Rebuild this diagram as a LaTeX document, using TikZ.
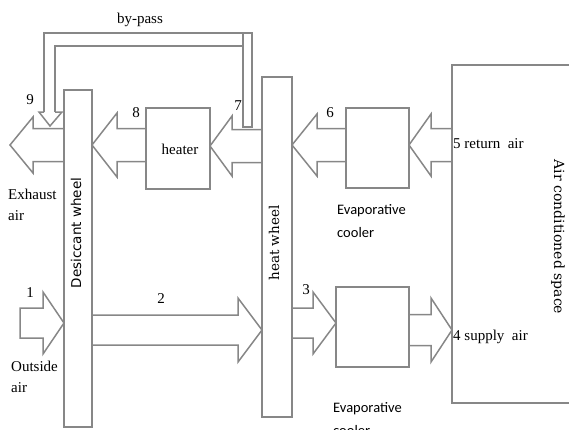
\documentclass[tikz,border=0pt]{standalone}
\usepackage{fontspec}
\setmainfont{Liberation Serif}
\newfontfamily\calib{Carlito}
\newfontfamily\dvserif{DejaVu Serif}
\newfontfamily\dvsans{DejaVu Sans}
\definecolor{lgray}{RGB}{135,135,135}
\tikzset{
  ln/.style={draw=lgray, line width=1.5pt, line join=miter},
  lbl/.style={inner sep=0pt, font=\fontsize{15}{18}\selectfont},
  evap/.style={inner sep=0pt, anchor=base west, font=\calib\fontsize{14.5}{17}\selectfont},
  wheeltxt/.style={inner sep=0pt, font=\fontsize{13.5}{16}\selectfont},
}
% horizontal block arrow: tail x, tip x, centre y, head-back x, shaft half, head half
\newcommand{\barrowopen}[6]{%
  \draw[ln] (#1,#3-#5) -- (#4,#3-#5) -- (#4,#3-#6) -- (#2,#3) -- (#4,#3+#6) -- (#4,#3+#5) -- (#1,#3+#5);}
\newcommand{\barrowclosed}[6]{%
  \draw[ln] (#1,#3-#5) -- (#4,#3-#5) -- (#4,#3-#6) -- (#2,#3) -- (#4,#3+#6) -- (#4,#3+#5) -- (#1,#3+#5) -- cycle;}
\begin{document}
\begin{tikzpicture}[x=1pt,y=-1pt]
\useasboundingbox (0,0) rectangle (569,429);
\clip (0,0) rectangle (569,429);
% boxes
\node[ln, minimum width=28pt, minimum height=337pt, inner sep=0pt] (desic) at (78,258.5) {};
\node[ln, minimum width=30pt, minimum height=340pt, inner sep=0pt] (hwheel) at (277,247) {};
\node[ln, minimum width=64pt, minimum height=81pt, inner sep=0pt] (heater) at (178,148.5) {};
\node[ln, minimum width=63pt, minimum height=80pt, inner sep=0pt] (cool1) at (377.5,148) {};
\node[ln, minimum width=73pt, minimum height=80pt, inner sep=0pt] (cool2) at (372.5,327) {};
\draw[ln] (580,65) -- (452,65) coordinate (spTL) -- (452,403) coordinate (spBL) -- (580,403);
% block arrows
\barrowopen{452}{409}{145}{431}{16.5}{31}
\barrowopen{346}{292}{145}{317}{16.5}{31}
\barrowopen{262}{210}{146}{232}{16.5}{30}
\barrowopen{146}{92}{145}{117}{16.5}{32}
\barrowopen{64}{10}{145}{33}{16.5}{28}
\barrowclosed{20}{64}{323}{43}{15}{31}
\barrowopen{92}{262}{330}{238}{15}{32}
\barrowopen{292}{336}{323}{313}{15}{31}
\barrowopen{409}{452}{330}{431}{15.5}{32}
% by-pass duct
\draw[ln] (55,112) -- (55,46) -- (243,46);
\draw[ln] (243,33) -- (44,33) -- (44,112);
\draw[ln] (44,112) -- (39,112) -- (50,126) -- (62,112) -- (55,112);
\draw[ln] (243,33) rectangle (252,127);
% texts
\node[lbl, anchor=base] (tbp) at (140,23) {by-pass};
\node[lbl, anchor=base] (t9) at (30,104) {9};
\node[lbl, anchor=base] (t8) at (136,117) {8};
\node[lbl, anchor=base] (t7) at (238,110) {7};
\node[lbl, anchor=base] (t6) at (330,117) {6};
\node[lbl, anchor=base] (t1) at (30,297) {1};
\node[lbl, anchor=base] (t2) at (161,303) {2};
\node[lbl, anchor=base] (t3) at (306,294) {3};
\node[lbl, anchor=base] (theat) at (180,154) {heater};
\node[lbl, anchor=base west] (t5) at (453,148) {5 return\ \ air};
\node[lbl, anchor=base west] (t4) at (453,340) {4 supply\ \ air};
\node[lbl, anchor=base west] (tex1) at (8,199) {Exhaust};
\node[lbl, anchor=base west] (tex2) at (8,220) {air};
\node[lbl, anchor=base west] (tout1) at (11,371) {Outside};
\node[lbl, anchor=base west] (tout2) at (11,392) {air};
\node[evap] (ev1a) at (337,214) {Evaporative};
\node[evap] (ev1b) at (337,237) {cooler};
\node[evap] (ev2a) at (333,412) {Evaporative};
\node[evap] (ev2b) at (333,435) {cooler};
\node[wheeltxt, font=\dvsans\fontsize{13.5}{16}\selectfont, rotate=90] (tdes) at (76,233) {Desiccant wheel};
\node[wheeltxt, font=\dvserif\fontsize{13.5}{16}\selectfont, rotate=90] (thw) at (274,243) {heat wheel};
\node[wheeltxt, font=\dvserif\fontsize{14}{16}\selectfont, rotate=-90] (tsp) at (558,237) {Air conditioned space};
\end{tikzpicture}
\end{document}
